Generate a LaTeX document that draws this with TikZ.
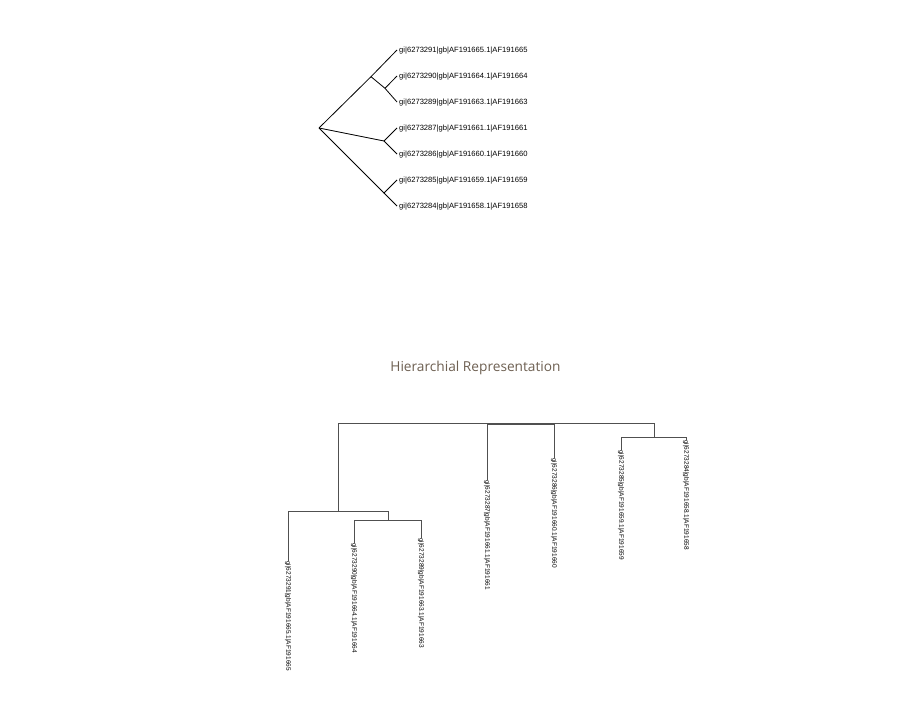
\documentclass[tikz,border=0pt]{standalone}
\usepackage{fontspec}
\setmainfont{Liberation Sans}
\newfontfamily\titlefont{Open Sans}
\usepackage{tikz}
\usetikzlibrary{positioning}
\definecolor{titlecol}{RGB}{110,96,82}
\definecolor{edgecol}{RGB}{80,80,80}
\tikzset{
  radial/.style={
    draw=black,
    line width=0.8pt,
  },
  elbow/.style={
    draw=edgecol,
    line width=0.9pt,
  },
  toplabel/.style={
    anchor=west, inner sep=0pt,
    font=\fontsize{7.6}{8}\selectfont
  },
  botlabel/.style={
    anchor=west, inner sep=0pt, rotate=-90,
    font=\fontsize{6.5}{7}\selectfont
  },
  heading/.style={
    text=titlecol,
    font=\titlefont\fontsize{13.7}{16}\selectfont
  }
}

\begin{document}
\begin{tikzpicture}[x=1pt, y=-1pt]
  \useasboundingbox (0,0) rectangle (900,712);

  % radial tree
  \coordinate (r-root) at (319,128);
  \coordinate (r-a) at (371,76.7);
  \coordinate (r-b) at (385,88.3);
  \coordinate (r-c) at (384,141);
  \coordinate (r-d) at (384,193);
  \foreach \id/\y in {91/50, 90/76, 89/102, 87/128, 86/154, 85/180, 84/206}{
    \coordinate (r-\id) at (397,\y);
  }
  \node[toplabel] (rl-91) at (399,50.5) {gi|6273291|gb|AF191665.1|AF191665};
  \node[toplabel] (rl-90) at (399,76.5) {gi|6273290|gb|AF191664.1|AF191664};
  \node[toplabel] (rl-89) at (399,102.5) {gi|6273289|gb|AF191663.1|AF191663};
  \node[toplabel] (rl-87) at (399,128.5) {gi|6273287|gb|AF191661.1|AF191661};
  \node[toplabel] (rl-86) at (399,154.5) {gi|6273286|gb|AF191660.1|AF191660};
  \node[toplabel] (rl-85) at (399,180.5) {gi|6273285|gb|AF191659.1|AF191659};
  \node[toplabel] (rl-84) at (399,206.5) {gi|6273284|gb|AF191658.1|AF191658};
  \draw[radial] (r-root) -- (r-a) -- (r-91);
  \draw[radial] (r-a) -- (r-b) -- (r-90);
  \draw[radial] (r-b) -- (r-89);
  \draw[radial] (r-root) -- (r-c) -- (r-87);
  \draw[radial] (r-c) -- (r-86);
  \draw[radial] (r-root) -- (r-d) -- (r-85);
  \draw[radial] (r-d) -- (r-84);

  \node[heading] (title) at (475.5,368) {Hierarchial Representation};

  % dendrogram
  \coordinate (h-root) at (496,423);
  \coordinate (h-a) at (338,511);
  \coordinate (h-b) at (388,520);
  \coordinate (h-m) at (520,424.5);
  \coordinate (h-r) at (654,437);
  \coordinate (h-91) at (288,561);
  \coordinate (h-90) at (354,543);
  \coordinate (h-89) at (421,538);
  \coordinate (h-87) at (487,480);
  \coordinate (h-86) at (554,458);
  \coordinate (h-85) at (621,450);
  \coordinate (h-84) at (686,440);
  \node[botlabel] (hl-91) at (h-91) {gi|6273291|gb|AF191665.1|AF191665};
  \node[botlabel] (hl-90) at (h-90) {gi|6273290|gb|AF191664.1|AF191664};
  \node[botlabel] (hl-89) at (h-89) {gi|6273289|gb|AF191663.1|AF191663};
  \node[botlabel] (hl-87) at (h-87) {gi|6273287|gb|AF191661.1|AF191661};
  \node[botlabel] (hl-86) at (h-86) {gi|6273286|gb|AF191660.1|AF191660};
  \node[botlabel] (hl-85) at (h-85) {gi|6273285|gb|AF191659.1|AF191659};
  \node[botlabel] (hl-84) at (h-84) {gi|6273284|gb|AF191658.1|AF191658};
  \draw[elbow] (h-root) -| (h-a);
  \draw[elbow] (h-root) -| (h-m);
  \draw[elbow] (h-root) -| (h-r);
  \draw[elbow] (h-a) -| (h-91);
  \draw[elbow] (h-a) -| (h-b);
  \draw[elbow] (h-b) -| (h-90);
  \draw[elbow] (h-b) -| (h-89);
  \draw[elbow] (h-m) -| (h-87);
  \draw[elbow] (h-m) -| (h-86);
  \draw[elbow] (h-r) -| (h-85);
  \draw[elbow] (h-r) -| (h-84);
\end{tikzpicture}
\end{document}
